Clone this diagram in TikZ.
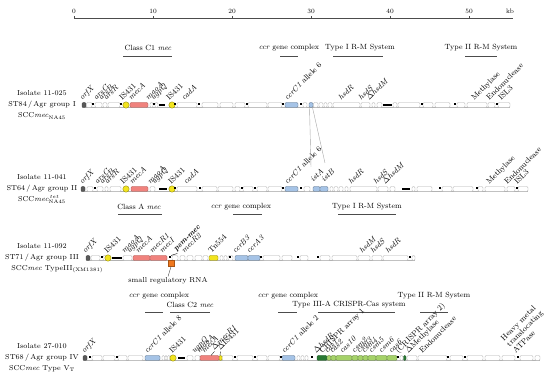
\documentclass[tikz,border=0pt]{standalone}
\usepackage{amsmath}
\usetikzlibrary{positioning}
\definecolor{mecred}{RGB}{240,130,125}
\definecolor{ccrblue}{RGB}{165,195,230}
\definecolor{isyel}{RGB}{242,228,30}
\definecolor{casgreen}{RGB}{165,210,105}
\definecolor{crgreen}{RGB}{40,120,50}
\definecolor{rnaor}{RGB}{240,120,30}
\tikzset{
  gene/.style={draw=gray!65,fill=white,line width=0.35pt,rounded corners=1.2pt},
  orfx/.style={gene,fill=gray!70!black,draw=gray!50!black},
  mecbox/.style={gene,fill=mecred,draw=mecred!70!black},
  ccrbox/.style={gene,fill=ccrblue,draw=ccrblue!60!black},
  casbox/.style={gene,fill=casgreen,draw=casgreen!60!black},
  crbox/.style={gene,fill=crgreen,draw=crgreen!70!black},
  isbox/.style={gene,fill=isyel,draw=isyel!60!black},
  chain/.style={line width=1.4pt,black},
  track/.style={gray!60,line width=0.3pt},
  glab/.style={rotate=45,anchor=base west,inner sep=0.3pt,font=\fontsize{7.8}{8.5}\selectfont\itshape},
  rlab/.style={glab,font=\fontsize{7.8}{8.5}\selectfont},
  hdr/.style={font=\fontsize{7.5}{9}\selectfont,inner sep=0pt},
  span/.style={gray!60!black,line width=0.5pt},
  iso/.style={align=center,font=\fontsize{7.2}{11}\selectfont,inner sep=0pt},
  tickl/.style={font=\fontsize{6.5}{7}\selectfont,inner sep=0pt},
  link/.style={gray!70,line width=0.4pt}
}
\newcommand\gn[3][gene]{\draw[#1] (#2,-2.5) rectangle (#3,2.5);}
\newcommand\gdot[1]{\fill (#1-0.7,-1.7) rectangle (#1+0.7,-0.3);}
\newcommand\isc[1]{\draw[isbox] (#1,0) circle[radius=3.2pt];}

\begin{document}
\begin{tikzpicture}[x=1pt,y=-1pt]
\useasboundingbox (0,0) rectangle (550,377);

% scale bar
\draw[span] (74,18) -- (513,18);
\foreach \v/\xx in {0/74,10/153,20/232,30/311,40/390,50/469}{
  \draw[span] (\xx,16.5) -- (\xx,19.5);
  \node[tickl] at (\xx,11) {\v};
}
\node[tickl] at (510,11) {kb};

% headers, first isolate
\node[hdr] (h1a) at (148,48) {Class C1 \textit{mec}};
\node[hdr] (h1b) at (289,48) {\textit{ccr} gene complex};
\node[hdr] (h1c) at (360,48) {Type I R-M System};
\node[hdr] (h1d) at (481,48) {Type II R-M System};
\draw[span] (123,56) -- (172,56);
\draw[span] (280,56) -- (298,56);
\draw[span] (333,56) -- (383,56);
\draw[span] (465,56) -- (497,56);

% isolate 11-025
\begin{scope}[shift={(0,105)}]
\node[iso] (iso1) at (42,0) {Isolate 11-025\\ST84\,/\,Agr group I\\SCC\textit{mec}$_{\text{NA45}}$};
\draw[track] (82,2.5) -- (510,2.5);
\gn[orfx]{82}{86}
\foreach \a/\b in {86.5/92,95/102,103/107,108/120,150/153,155/158,177/197,202/218,220/233,235/245,248/267,268/282,303/307,313.5/318,319/323,324/327,328/332,333/360,361/370,372/375,377/382,393/397,398/420,423/433,435/450,457/465,467/487,488/495,498/510}{\gn{\a}{\b}}
\gn[mecbox]{130}{148}
\gn[ccrbox]{285}{298}
\gn[ccrbox]{309}{313}
\coordinate (is1a) at (309.5,2.5);
\coordinate (is1b) at (312.5,2.5);
\foreach \a/\b in {159/165,383/392}{\draw[chain] (\a,0) -- (\b,0);}
\isc{126} \isc{172}
\foreach \a in {93,121,154,175,199,247,283,301,422,455,497}{\gdot{\a}}
\foreach \x/\t in {82/orfX,96/arsC,101/arsB,106/arsR,131/mecA,148/maoA,153/ugpQ,184/cadA,341/hsdR,361/hsdS,369/$\Delta$hsdM}{\node[glab] at (\x,-4) {\t};}
\foreach \x/\t in {122/IS431,169/IS431,474/Methylase,489/Endonuclease,501/ISL3}{\node[rlab] at (\x,-4) {\t};}
\node[rlab] at (287,-4) {\textit{ccrC1} allele 6};
\end{scope}

% isolate 11-041
\begin{scope}[shift={(0,189)}]
\node[iso] (iso2) at (42,0) {Isolate 11-041\\ST64\,/\,Agr group II\\SCC\textit{mec}$_{\text{NA45}}^{\,tet}$};
\draw[track] (81,2.5) -- (528,2.5);
\gn[orfx]{81}{85}
\foreach \a/\b in {87/93,97/103,105/108,110/121,150/155,177/197,202/217,218/233,235/240,243/253,257/267,268/282,304/310,330/333,334/338,339/343,345/348,350/377,378/388,390/395,412/415,417/432,442/452,453/473,478/483,485/505,507/515,518/528}{\gn{\a}{\b}}
\gn[mecbox]{131}{148}
\gn[ccrbox]{285}{298}
\gn[ccrbox]{313}{320}
\gn[ccrbox]{320}{328}
\foreach \a/\b in {159/167,402/410}{\draw[chain] (\a,0) -- (\b,0);}
\isc{126} \isc{172}
\foreach \a in {95,175,200,242,255,283,301,440,477,517}{\gdot{\a}}
\foreach \x/\t in {82/orfX,97/arsC,102/arsB,107/arsR,132/mecA,150/maoA,154/ugpQ,186/cadA,351/hsdR,376/hsdS,385/$\Delta$hsdM}{\node[glab] at (\x,-4) {\t};}
\foreach \x/\t in {123/IS431,171/IS431,489/Methylase,507/Endonuclease,517/ISL3}{\node[rlab] at (\x,-4) {\t};}
\node[rlab] at (287,-4) {\textit{ccrC1} allele 6};
\node[glab] (istA) at (313,-6) {istA};
\node[glab] (istB) at (324,-6) {istB};
\coordinate (ista) at (311,-22);
\coordinate (istb) at (325,-26);
\end{scope}
\draw[link] (is1a) -- (ista);
\draw[link] (is1b) -- (istb);

% headers, third isolate
\node[hdr] (h3a) at (139,207) {Class A \textit{mec}};
\node[hdr] (h3b) at (241,207) {\textit{ccr} gene complex};
\node[hdr] (h3c) at (367,207) {Type I R-M System};
\draw[span] (118,214) -- (162,214);
\draw[span] (233,214) -- (262,214);
\draw[span] (338,214) -- (396,214);

% isolate 11-092
\begin{scope}[shift={(0,258)}]
\node[iso] (iso3) at (42,0) {Isolate 11-092\\ST71\,/\,Agr group III\\SCC\textit{mec} TypeIII\rlap{$_{\text{(XM1381)}}$}};
\draw[track] (86,2.5) -- (415,2.5);
\gn[orfx]{86}{90}
\foreach \a/\b in {91/100,103/106,123/132,172/178,180/185,187/193,195/202,203/208,220/223,224/227,228/233,263/280,282/292,300/308,320/330,332/357,358/370,372/382,383/408,412/415}{\gn{\a}{\b}}
\draw[chain] (112,0) -- (122,0);
\gn[mecbox]{133}{150}
\gn[mecbox]{150}{167}
\isc{108}
\gn[isbox]{209}{218}
\gn[ccrbox]{235}{248}
\gn[ccrbox]{248}{260}
\foreach \a in {102,170,230,261,298,318,410}{\gdot{\a}}
\node[draw=rnaor!70!black,fill=rnaor,minimum size=6pt,inner sep=0pt] (rnasq) at (171,5.5) {};
\node[font=\fontsize{7.2}{8}\selectfont,inner sep=1pt] (srna) at (168,23) {small regulatory RNA};
\draw[black!70,line width=0.4pt] (rnasq.south) -- (srna.north);
\foreach \x/\t in {85/orfX,124/maoA,129/ugpQ,138/mecA,152/mecR1,162/mecI,184/mecR2,235/ccrB3,249/ccrA3,362/hsdM,373/hsdS,388/hsdR}{\node[glab] at (\x,-4) {\t};}
\foreach \x/\t in {107/IS431,211/Tn554}{\node[rlab] at (\x,-4) {\t};}
\node[glab,font=\fontsize{7.8}{8.5}\selectfont\bfseries\itshape] (psm) at (176,-6) {psm-mec};
\coordinate (mecI) at (171,-2.5);
\draw[black,line width=0.4pt] (mecI) -- (psm.south west);
\end{scope}

% headers, fourth isolate
\node[hdr] (h4a) at (159,296) {\textit{ccr} gene complex};
\node[hdr] (h4b) at (190,305) {Class C2 \textit{mec}};
\node[hdr] (h4c) at (288,296) {\textit{ccr} gene complex};
\node[hdr] (h4d) at (349,305) {Type III-A CRISPR-Cas system};
\node[hdr] (h4e) at (434,296) {Type II R-M System};
\draw[span] (145,312) -- (163,312);
\draw[span] (170,312) -- (210,312);
\draw[span] (278,312) -- (297,312);
\draw[span] (318,312) -- (395,312);
\draw[span] (420,312) -- (448,312);

% isolate 27-010
\begin{scope}[shift={(0,358)}]
\node[iso] (iso4) at (42,0) {Isolate 27-010\\ST68\,/\,Agr group IV\\SCC\textit{mec} Type V$_{\text{T}}$};
\draw[track] (83,2.5) -- (540,2.5);
\gn[orfx]{83}{87}
\foreach \a/\b in {92/102,103/115,118/127,128/143,162/164.5,165/167,167.5/170,187/193,195/200,222/233,237/253,257/267,268/280,297/300,301/304,305/308,400/403,407/417,418/447,450/463,467/483,485/500,502/515,520/533,535/540}{\gn{\a}{\b}}
\gn[ccrbox]{145}{160}
\gn[ccrbox]{282}{295}
\isc{173}
\gn[isbox]{219}{222}
\draw[chain] (178,0) -- (185,0);
\gn[mecbox]{200}{219}
\gn[crbox]{317}{327}
\foreach \a/\b in {327/331,331/336,336/352,352/358,358/363,363/368,368/376,376/387,387/397}{\gn[casbox]{\a}{\b}}
\gn[crbox]{403.5}{406}
\foreach \a in {90,117,235,255,281,312,398,448,465,518}{\gdot{\a}}
\foreach \x/\t in {84/orfX,194/ugpQ,199/maoA,204/mecA,316/$\Delta$hsdR,327/cas1,332/cas2,342/cas10,354/csm2,359/csm3,364/csm4,371/csm5,381/csm6,391/cas6}{\node[glab] at (\x,-4) {\t};}
\foreach \x/\t in {172/IS431,322/CRISPR array 1,398/(CRISPR array 2),408/$\Delta$Methylase,422/Endonuclease}{\node[rlab] at (\x,-4) {\t};}
\node[rlab] at (147,-4) {\textit{ccrC1} allele 8};
\node[rlab] at (284,-4) {\textit{ccrC1} allele 2};
\node[glab] (dmecr) at (214,-7) {$\Delta$mecR1};
\node[rlab] (dis) at (220,-7) {$\Delta$IS431};
\coordinate (mecR) at (211,-2.5);
\coordinate (isd) at (220,-2.5);
\draw[black,line width=0.3pt] (mecR) -- (dmecr.south west);
\draw[black,line width=0.3pt] (isd) -- (dis.south west);
\node[rlab,anchor=south west,align=left] (hma) at (516,-4) {Heavy metal\\translocating\\ATPase};
\end{scope}
\end{tikzpicture}
\end{document}
